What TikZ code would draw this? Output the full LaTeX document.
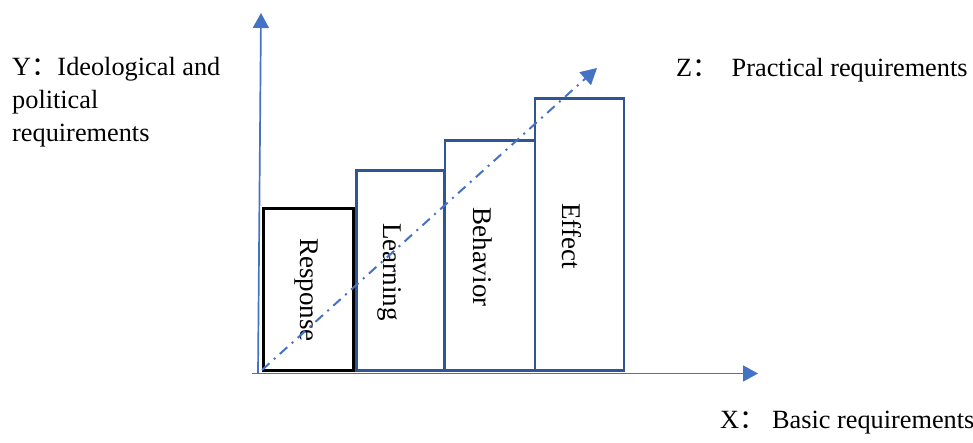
\documentclass[tikz,border=0pt]{standalone}
\usepackage{fontspec}
\setmainfont{Liberation Serif}
\newfontfamily\cjk{Noto Sans CJK SC}
\usetikzlibrary{arrows.meta}
\definecolor{axisblue}{HTML}{4472C4}
\definecolor{boxblue}{HTML}{2F5597}
\tikzset{
  axisline/.style={draw=axisblue, line width=1.7pt, -{Triangle[length=15pt,width=16pt]}},
  zline/.style={draw=axisblue, line width=2pt, dash pattern=on 10pt off 6pt on 2pt off 6pt, -{Triangle[length=16pt,width=17pt]}},
  barbox/.style={draw=boxblue, line width=2.8pt, anchor=south west, inner sep=0pt},
  blackbox/.style={draw=black, line width=2.6pt, anchor=south west, inner sep=0pt},
  lab/.style={font=\fontsize{26.3}{31}\selectfont, inner sep=0pt, anchor=base west},
  barlab/.style={font=\fontsize{27}{31}\selectfont, inner sep=0pt, rotate=-90, anchor=center}
}
\newcommand{\fwc}{{\cjk ：}}
\begin{document}
\begin{tikzpicture}[x=1pt,y=-1pt]
\useasboundingbox (0,0) rectangle (973,443);
% axes
\coordinate (ybot) at (258,373.5);
\coordinate (ytop) at (261,13);
\coordinate (xleft) at (252,373.5);
\coordinate (xright) at (758,373.5);
\draw[axisline] (ybot) -- (ytop);
\draw[axisline] (xleft) -- (xright);
% bars
\node[blackbox, minimum width=90pt, minimum height=162pt] (resp) at (262,372) {};
\node[barbox, minimum width=88pt, minimum height=200pt] (learn) at (355,372) {};
\node[barbox, minimum width=90pt, minimum height=230pt] (behav) at (443.5,372) {};
\node[barbox, minimum width=89pt, minimum height=272pt] (effect) at (533.5,372) {};
\node[barlab] (tresp) at (306,290) {Response};
\node[barlab] (tlearn) at (390,272) {Learning};
\node[barlab] (tbehav) at (483,257) {Behavior};
\node[barlab] (teffect) at (572,236) {Effect};
% z direction
\coordinate (zstart) at (262,370);
\coordinate (ztip) at (597,68);
\draw[zline] (zstart) -- (ztip);
% labels
\node[lab] (ylab1) at (12,76) {Y\fwc Ideological and};
\node[lab] (ylab2) at (12,109) {political};
\node[lab] (ylab3) at (12,142) {requirements};
\node[lab] (zlab) at (676,77) {Z\fwc\ \ Practical requirements};
\node[lab] (xlab) at (720,428) {X\fwc\ Basic requirements};
\end{tikzpicture}
\end{document}
